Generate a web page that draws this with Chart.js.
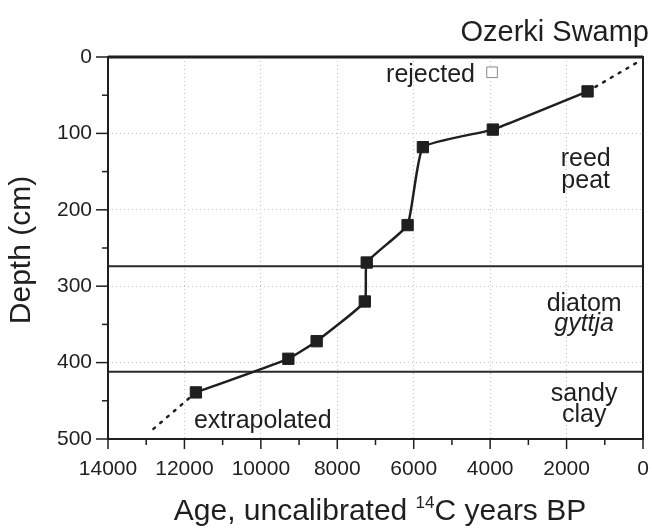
<!DOCTYPE html>
<html>
<head>
<meta charset="utf-8">
<script src="https://cdn.jsdelivr.net/npm/chart.js@4.4.1/dist/chart.umd.min.js"></script>
<style>
  html, body { margin: 0; padding: 0; background: #fff; }
  #wrap { width: 652px; height: 529px; position: relative; }
</style>
</head>
<body>
<div id="wrap"><canvas id="grafico"></canvas></div>
<script>
// Datos (edad 14C BP, profundidad cm)
const edades = [1450, 3930, 5760, 6160, 7230, 7280, 8540, 9280, 11700];
const profundidades = [45, 95, 118, 220, 269, 320, 372, 395, 439];

const edadRechazada = [3950];
const profRechazada = [20];

const extrapArribaEdades = [1450, 180];
const extrapArribaProf = [45, 8];
const extrapAbajoEdades = [11700, 12840];
const extrapAbajoProf = [439, 488];

const limitesProf = [274, 412];   // limites entre capas
const edadesEje = [14000, 0];

const ticksX = [14000, 12000, 10000, 8000, 6000, 4000, 2000, 0];
const ticksY = [0, 100, 200, 300, 400, 500];

// etiquetas de capas: [texto, edad, profundidad, cursiva]
const etiquetas = [
    ["rejected", 5560, 24, false],
    ["reed", 1500, 134, false],
    ["peat", 1500, 162, false],
    ["diatom", 1540, 323, false],
    ["gyttja", 1540, 350, true],
    ["sandy", 1540, 441, false],
    ["clay", 1540, 469, false],
    ["extrapolated", 9950, 477, false]
];

const COLOR = '#1f1f1f';
const FUENTE = "'Liberation Sans', Arial, Helvetica, sans-serif";

const pares = (xs, ys) => xs.map((x, i) => ({ x: x, y: ys[i] }));

const datasets = [
    {
        label: 'edades',
        data: pares(edades, profundidades),
        showLine: true,
        borderColor: COLOR,
        borderWidth: 2.5,
        tension: 0.12,
        pointStyle: 'rect',
        pointRadius: 8,
        pointBackgroundColor: COLOR,
        pointBorderColor: COLOR,
        pointBorderWidth: 1,
        order: 0
    },
    {
        label: 'rechazada',
        data: pares(edadRechazada, profRechazada),
        showLine: false,
        pointStyle: 'rect',
        pointRadius: 7.5,
        pointBackgroundColor: '#fff',
        pointBorderColor: '#888',
        pointBorderWidth: 1,
        order: 1
    },
    {
        label: 'extrapolada arriba',
        data: pares(extrapArribaEdades, extrapArribaProf),
        showLine: true,
        borderColor: COLOR,
        borderWidth: 2.5,
        borderDash: [2, 7],
        borderCapStyle: 'round',
        pointRadius: 0,
        order: 1
    },
    {
        label: 'extrapolada abajo',
        data: pares(extrapAbajoEdades, extrapAbajoProf),
        showLine: true,
        borderColor: COLOR,
        borderWidth: 2.5,
        borderDash: [2, 7],
        borderCapStyle: 'round',
        pointRadius: 0,
        order: 1
    }
];

limitesProf.forEach(p => {
    datasets.push({
        label: 'limite ' + p,
        data: pares(edadesEje, edadesEje.map(() => p)),
        showLine: true,
        borderColor: '#2a2a2a',
        borderWidth: 2,
        pointRadius: 0,
        order: 2
    });
});

// Plugin para marco, marcas de ejes y textos
const extras = {
    id: 'extras',
    afterDraw(chart) {
        const { ctx, chartArea: a, scales } = chart;
        const sx = scales.x, sy = scales.y;
        ctx.save();

        // marcas del eje Y
        ctx.strokeStyle = COLOR;
        ctx.lineWidth = 1.5;
        for (let v = 0; v <= 500; v += 50) {
            const y = sy.getPixelForValue(v);
            const len = v % 100 === 0 ? 12 : 6;
            ctx.beginPath();
            ctx.moveTo(a.left - len, y);
            ctx.lineTo(a.left, y);
            ctx.stroke();
        }
        // marcas del eje X
        for (let v = 0; v <= 14000; v += 1000) {
            const x = sx.getPixelForValue(v);
            const len = v % 2000 === 0 ? 10 : 6;
            ctx.beginPath();
            ctx.moveTo(x, a.bottom);
            ctx.lineTo(x, a.bottom + len);
            ctx.stroke();
        }

        // marco (el borde superior algo mas grueso)
        ctx.lineWidth = 2;
        ctx.strokeRect(a.left, a.top, a.right - a.left, a.bottom - a.top);
        ctx.lineWidth = 3;
        ctx.beginPath();
        ctx.moveTo(a.left, a.top);
        ctx.lineTo(a.right, a.top);
        ctx.stroke();

        // etiquetas dentro del grafico
        ctx.fillStyle = COLOR;
        ctx.textAlign = 'center';
        ctx.textBaseline = 'middle';
        etiquetas.forEach(([t, edad, prof, cursiva]) => {
            ctx.font = (cursiva ? 'italic ' : '') + '25px ' + FUENTE;
            ctx.fillText(t, sx.getPixelForValue(edad), sy.getPixelForValue(prof));
        });

        // titulo
        ctx.font = '29px ' + FUENTE;
        ctx.textAlign = 'right';
        ctx.textBaseline = 'alphabetic';
        ctx.fillText('Ozerki Swamp', 649, 41);

        // titulo eje Y
        ctx.save();
        ctx.translate(22, 250);
        ctx.rotate(-Math.PI / 2);
        ctx.textAlign = 'center';
        ctx.textBaseline = 'middle';
        ctx.font = '30px ' + FUENTE;
        ctx.fillText('Depth (cm)', 0, 0);
        ctx.restore();

        // titulo eje X con superindice
        const partes = [['Age, uncalibrated ', 30, 0], ['14', 17, -12], ['C years BP', 30, 0]];
        let ancho = 0;
        partes.forEach(([t, s]) => { ctx.font = s + 'px ' + FUENTE; ancho += ctx.measureText(t).width; });
        let x = 380 - ancho / 2;
        ctx.textAlign = 'left';
        partes.forEach(([t, s, dy]) => {
            ctx.font = s + 'px ' + FUENTE;
            ctx.fillText(t, x, 520 + dy);
            x += ctx.measureText(t).width;
        });

        ctx.restore();
    }
};

const grafico = new Chart(document.getElementById('grafico'), {
    type: 'scatter',
    data: { datasets: datasets },
    options: {
        responsive: true,
        maintainAspectRatio: false,
        animation: false,
        layout: { padding: { top: 57, right: 6, left: 0, bottom: 0 } },
        plugins: {
            legend: { display: false },
            tooltip: { enabled: false }
        },
        scales: {
            x: {
                type: 'linear',
                reverse: true,
                min: 0,
                max: 14000,
                afterFit: (s) => { s.height = 90; },
                afterBuildTicks: (s) => { s.ticks = []; for (let v = 0; v <= 14000; v += 1000) s.ticks.push({ value: v }); },
                ticks: {
                    callback: (v) => ticksX.includes(v) ? String(v) : null,
                    autoSkip: false,
                    maxRotation: 0,
                    padding: 18,
                    color: COLOR,
                    font: { family: FUENTE, size: 21 }
                },
                grid: { color: '#c4c4c4', lineWidth: 1, drawTicks: false },
                border: { display: false, dash: [1, 3] }
            },
            y: {
                type: 'linear',
                reverse: true,
                min: 0,
                max: 500,
                afterFit: (s) => { s.width = 108; },
                afterBuildTicks: (s) => { s.ticks = []; for (let v = 0; v <= 500; v += 50) s.ticks.push({ value: v }); },
                ticks: {
                    callback: (v) => ticksY.includes(v) ? String(v) : null,
                    autoSkip: false,
                    padding: 16,
                    color: COLOR,
                    font: { family: FUENTE, size: 21 }
                },
                grid: { color: '#c4c4c4', lineWidth: 1, drawTicks: false },
                border: { display: false, dash: [1, 3] }
            }
        }
    },
    plugins: [extras]
});
</script>
</body>
</html>
